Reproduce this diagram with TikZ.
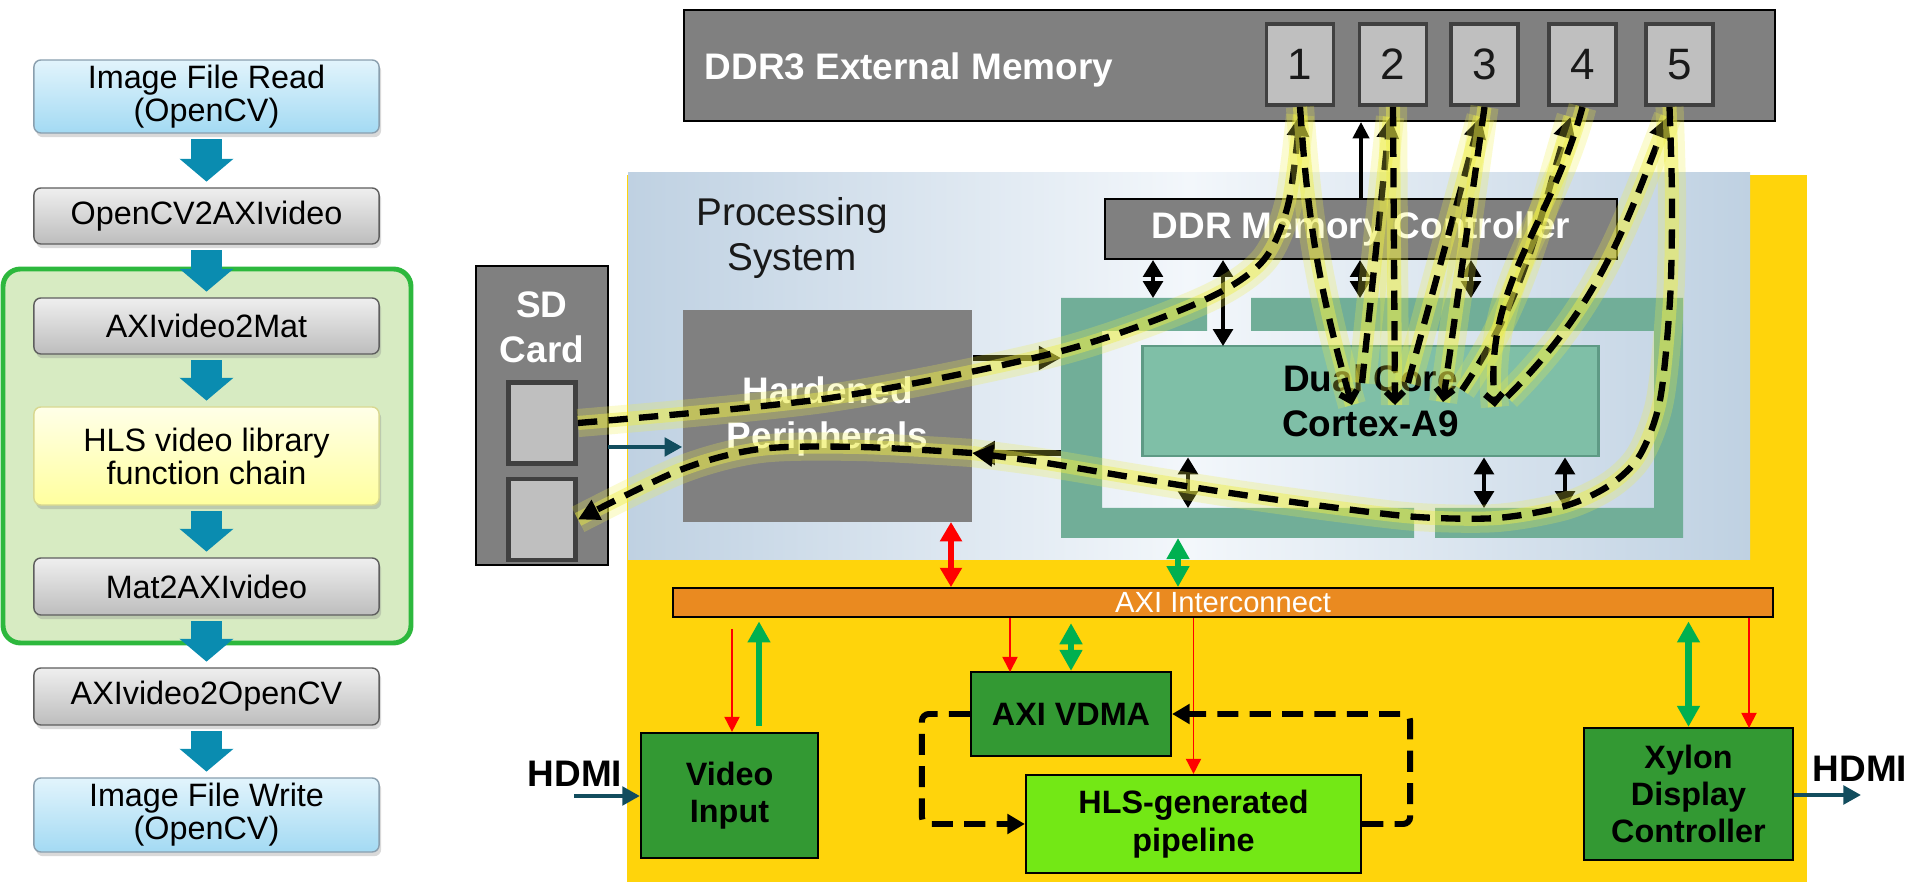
\documentclass[tikz,border=0pt]{standalone}
\usepackage{fontspec}
\setmainfont{Liberation Sans}
\usepackage{tikz}
\usetikzlibrary{arrows.meta,shadows}
\definecolor{graytop}{HTML}{EFEFEF}
\definecolor{graybot}{HTML}{BDBDBD}
\definecolor{flowedge}{HTML}{5E5E5E}
\definecolor{bluetop}{HTML}{E2F4FC}
\definecolor{bluebot}{HTML}{A3DAF3}
\definecolor{blueedge}{HTML}{8A9FAE}
\definecolor{yellowtop}{HTML}{FFFFE8}
\definecolor{yellowbot}{HTML}{FFFF9E}
\definecolor{yellowedge}{HTML}{D8D890}
\definecolor{hlsfill}{HTML}{D7EBC2}
\definecolor{hlsedge}{HTML}{2DB83D}
\definecolor{arrowteal}{HTML}{0A8CB0}
\definecolor{plyellow}{HTML}{FFD40B}
\definecolor{psedge}{HTML}{BFD1E2}
\definecolor{psmid}{HTML}{F3F7FB}
\definecolor{memgray}{HTML}{808080}
\definecolor{slotgray}{HTML}{BFBFBF}
\definecolor{slotedge}{HTML}{404040}
\definecolor{frameteal}{HTML}{71AE98}
\definecolor{coreteal}{HTML}{7FBFA7}
\definecolor{coreedge}{HTML}{5E9A85}
\definecolor{axiorange}{HTML}{EA8A20}
\definecolor{blockgreen}{HTML}{339933}
\definecolor{pipegreen}{HTML}{73E815}
\definecolor{redarrow}{HTML}{FF0000}
\definecolor{greenarrow}{HTML}{00B050}
\definecolor{hdmiteal}{HTML}{124D5E}
\definecolor{glowyellow}{HTML}{EEEE48}
\tikzset{
flowbox/.style={
 draw=flowedge,
 rounded corners=2pt,
 inner sep=1pt,
 minimum width=3.45cm,
 align=center,
 font=\fontsize{9.2}{9.4}\selectfont,
 drop shadow={shadow xshift=0.6pt,shadow yshift=-1.2pt,opacity=0.3}
 },
grayflow/.style={flowbox, top color=graytop, bottom color=graybot},
blueflow/.style={flowbox, draw=blueedge, top color=bluetop, bottom color=bluebot},
yellowflow/.style={flowbox, draw=yellowedge, top color=yellowtop, bottom color=yellowbot},
flowarrow/.style={
 draw=arrowteal,
 line width=8.8pt,
 -{Triangle[length=6.5pt,width=15pt]},
 shorten <=1.6pt,
 shorten >=1.6pt
 },
memblock/.style={draw=black, fill=memgray, inner sep=0pt, line width=0.6pt},
memlabel/.style={text=white, font=\bfseries\fontsize{10.5}{12.8}\selectfont, inner sep=0pt, align=center},
memslot/.style={
 draw=slotedge, fill=slotgray, line width=1.1pt,
 minimum width=0.67cm, minimum height=0.81cm, inner sep=0pt,
 font=\fontsize{12.5}{14}\selectfont, text=black!90
 },
sdslot/.style={draw=slotedge, fill=slotgray, line width=1.4pt, minimum width=0.67cm, minimum height=0.81cm, inner sep=0pt},
hardblock/.style={fill=memgray, inner sep=0pt, text=white, font=\bfseries\fontsize{10.5}{12.8}\selectfont, align=center},
coreblock/.style={draw=coreedge, fill=coreteal, line width=0.8pt, inner sep=0pt, font=\bfseries\fontsize{10.5}{12.8}\selectfont, align=center},
axibar/.style={draw=black, fill=axiorange, line width=0.5pt, inner sep=0pt, text=white, font=\fontsize{8.3}{9}\selectfont},
greenblock/.style={draw=black, fill=blockgreen, line width=0.6pt, inner sep=0pt, font=\bfseries\fontsize{9.2}{10.6}\selectfont, align=center},
busarrow/.style={line width=1pt, {Triangle[length=4.8pt,width=5.6pt]}-{Triangle[length=4.8pt,width=5.6pt]}},
ctrlarrow/.style={line width=0.9pt, -{Triangle[length=4.6pt,width=4.6pt]}},
solidarrow/.style={line width=1.6pt, -{Triangle[length=6.3pt,width=6.5pt]}},
redthick/.style={draw=redarrow, line width=1.5pt, {Triangle[length=5.5pt,width=6pt]}-{Triangle[length=5.5pt,width=6pt]}},
greenthick/.style={draw=greenarrow, line width=1.8pt, {Triangle[length=6pt,width=6.2pt]}-{Triangle[length=6pt,width=6.2pt]}},
greenup/.style={draw=greenarrow, line width=1.8pt, -{Triangle[length=6pt,width=6.2pt]}},
redthin/.style={draw=redarrow, line width=0.5pt, -{Triangle[length=4.3pt,width=4.3pt]}},
hdmiarrow/.style={draw=hdmiteal, line width=1.2pt, -{Triangle[length=5pt,width=5.2pt]}},
hdmilbl/.style={font=\bfseries\fontsize{10.5}{12}\selectfont, inner sep=0pt},
loopdash/.style={line width=1.7pt, dash pattern=on 6pt off 3.2pt, rounded corners=2pt, -{Triangle[length=5pt,width=5.5pt]}},
flowpath/.style={
 preaction={draw=glowyellow, line width=8pt, draw opacity=0.25, solid, -},
 preaction={draw=glowyellow, line width=4pt, draw opacity=0.45, solid, -},
 draw=black, line width=1.8pt, dash pattern=on 5.5pt off 3.2pt,
 -{Triangle[length=6pt,width=6pt]}
 },
coretip/.style={-{Straight Barb[length=2.5pt,width=5pt]}}
}

\begin{document}
\begin{tikzpicture}[x=0.01cm,y=-0.01cm]
\useasboundingbox (0,0) rectangle (1915,883);
\draw[draw=hlsedge, fill=hlsfill, line width=1.4pt, rounded corners=5pt] (3,269) rectangle (411,643);
\node[blueflow, minimum height=0.73cm] (imgread) at (206.5,96.5) {Image File Read\\(OpenCV)};
\node[grayflow, minimum height=0.56cm] (cv2axi) at (206.5,216) {OpenCV2AXIvideo};
\node[grayflow, minimum height=0.56cm] (axi2mat) at (206.5,326) {AXIvideo2Mat};
\node[yellowflow, minimum height=0.98cm] (hlslib) at (206.5,456) {HLS video library\\function chain};
\node[grayflow, minimum height=0.57cm] (mat2axi) at (206.5,586.5) {Mat2AXIvideo};
\node[grayflow, minimum height=0.57cm] (axi2cv) at (206.5,696.5) {AXIvideo2OpenCV};
\node[blueflow, minimum height=0.74cm] (imgwrite) at (206.5,815) {Image File Write\\(OpenCV)};
\draw[flowarrow] (imgread) -- (cv2axi);
\draw[flowarrow] (cv2axi) -- (axi2mat);
\draw[flowarrow] (axi2mat) -- (hlslib);
\draw[flowarrow] (hlslib) -- (mat2axi);
\draw[flowarrow] (mat2axi) -- (axi2cv);
\draw[flowarrow] (axi2cv) -- (imgwrite);

\fill[plyellow] (627,175) rectangle (1807,882);
\shade[left color=psedge, right color=psedge, middle color=psmid] (628,173) rectangle (1750,560);
\node[memblock, minimum width=10.91cm, minimum height=1.11cm] (ddr3) at (1229.5,65.5) {};
\node[memlabel, anchor=base west] (ddr3lbl) at (704,80) {DDR3 External Memory};
\node[memslot] (m1) at (1300,64.5) {1};
\node[memslot] (m2) at (1393,64.5) {2};
\node[memslot] (m3) at (1484.5,64.5) {3};
\node[memslot] (m4) at (1582.5,64.5) {4};
\node[memslot] (m5) at (1679.5,64.5) {5};
\node[align=center, inner sep=0pt, text=black!90, font=\fontsize{11}{12.8}\selectfont] (pslbl) at (792,238) {Processing\\System};

\node[memblock, minimum width=1.32cm, minimum height=2.99cm] (sd) at (542,415.5) {};
\node[memlabel] (sdlbl) at (542,327) {SD\\Card};
\node[sdslot] (sdA) at (542,423) {};
\node[sdslot] (sdB) at (542,519.5) {};
\node[hardblock, minimum width=2.89cm, minimum height=2.12cm] (hp) at (827.5,416) {Hardened\\Peripherals};

\fill[frameteal] (1061,298) -- (1207,298) -- (1207,331) -- (1102,331) -- (1102,508) -- (1414,508) -- (1414,538) -- (1061,538) -- cycle;
\fill[frameteal] (1251,298) -- (1683,298) -- (1683,538) -- (1435,538) -- (1435,508) -- (1654,508) -- (1654,331) -- (1251,331) -- cycle;
\node[coreblock, minimum width=4.55cm, minimum height=1.1cm] (core) at (1370.5,401) {Dual Core\\Cortex-A9};
\node[memblock, memlabel, minimum width=5.12cm, minimum height=0.6cm] (ctrl) at (1361,229) {DDR Memory Controller};

\coordinate (ft1) at (1153,298);
\coordinate (ft2) at (1360,298);
\coordinate (ft3) at (1471,298);
\coordinate (ct) at (1223,346);
\coordinate (fb1) at (1188,508);
\coordinate (fb2) at (1484,508);
\coordinate (fb3) at (1565,508);
\coordinate (fl1) at (1061,358);
\coordinate (fl2) at (1061,453);
\coordinate (sdout) at (608,447);
\draw[ctrlarrow] (ctrl.north) -- (ctrl.north |- ddr3.south);
\draw[busarrow] (ft1 |- ctrl.south) -- (ft1);
\draw[busarrow] (ft2 |- ctrl.south) -- (ft2);
\draw[busarrow] (ft3 |- ctrl.south) -- (ft3);
\draw[busarrow] (ct |- ctrl.south) -- (ct);
\draw[busarrow] (fb1 |- core.south) -- (fb1);
\draw[busarrow] (fb2 |- core.south) -- (fb2);
\draw[busarrow] (fb3 |- core.south) -- (fb3);
\draw[solidarrow] (fl1 -| hp.east) -- (fl1);
\draw[solidarrow] (fl2) -- (fl2 -| hp.east);
\draw[hdmiarrow] (sdout) -- (sdout -| hp.west);

\node[axibar, minimum width=11cm, minimum height=0.29cm] (axi) at (1223,602.5) {AXI Interconnect};
\node[greenblock, minimum width=1.77cm, minimum height=1.25cm] (vin) at (729.5,795.5) {Video\\Input};
\node[greenblock, minimum width=2cm, minimum height=0.84cm] (vdma) at (1071,714) {AXI VDMA};
\node[greenblock, fill=pipegreen, minimum width=3.35cm, minimum height=0.98cm] (hls) at (1193.5,824) {HLS-generated\\pipeline};
\node[greenblock, minimum width=2.09cm, minimum height=1.32cm] (xyl) at (1688.5,794) {Xylon\\Display\\Controller};

\coordinate (hpr) at (951,522);
\coordinate (fbot) at (1178,538);
\coordinate (vinr) at (732,629);
\coordinate (ving) at (759,726);
\coordinate (vdmar) at (1010,672);
\coordinate (xylr) at (1749,728);
\draw[redthick] (hpr) -- (hpr |- axi.north);
\draw[greenthick] (fbot) -- (fbot |- axi.north);
\draw[redthin] (vinr) -- (vinr |- vin.north);
\draw[greenup, shorten >=1pt] (ving) -- (ving |- axi.south);
\draw[redthin] (vdmar |- axi.south) -- (vdmar);
\draw[greenthick, shorten <=1.5pt] (vdma.north |- axi.south) -- (vdma.north);
\draw[redthin] (hls.north |- axi.south) -- (hls.north);
\draw[greenthick, shorten <=1pt] (xyl.north |- axi.south) -- (xyl.north);
\draw[redthin] (xylr |- axi.south) -- (xylr);

\node[hdmilbl, anchor=base] (hdmiin) at (575,787) {HDMI};
\node[hdmilbl, anchor=base] (hdmiout) at (1860,782) {HDMI};
\coordinate (hdmiinpt) at (574,796);
\coordinate (hdmioutpt) at (1861,795);
\draw[hdmiarrow] (hdmiinpt) -- (hdmiinpt -| vin.west);
\draw[hdmiarrow] (hdmioutpt -| xyl.east) -- (hdmioutpt);
\draw[loopdash] (vdma.west) -- ++(-48,0) |- (hls.west);
\draw[loopdash] (hls.east) -- ++(48,0) |- (vdma.east);

\coordinate (t1) at ([yshift=-0.08cm]m1.south);
\coordinate (t2) at ([xshift=-0.03cm,yshift=-0.1cm]m2.south);
\coordinate (t3) at ([xshift=-0.04cm,yshift=-0.1cm]m3.south);
\coordinate (t4) at ([xshift=-0.12cm,yshift=-0.1cm]m4.south);
\coordinate (t5) at ([xshift=-0.12cm,yshift=-0.1cm]m5.south);
\coordinate (s5) at ([xshift=-0.1cm]m5.south);
\coordinate (c1) at (1352,405);
\coordinate (c2a) at (1362,383);
\coordinate (c2b) at (1395,405);
\coordinate (c3a) at (1408,383);
\coordinate (c3b) at (1443,402);
\coordinate (c4a) at (1462,390);
\coordinate (c4b) at (1495,407);
\coordinate (c5) at (1507,397);
\coordinate (hpin) at (972,453);
\draw[flowpath] plot[smooth] coordinates {(sdA.east) (830,398) (1058,352) (1200,302) (1262,262) (1288,205) (t1)};
\draw[flowpath, coretip] (m1.south) to[bend right=6] (c1);
\draw[flowpath] (c2a) -- (t2);
\draw[flowpath, coretip] (m2.south) -- (c2b);
\draw[flowpath] (c3a) -- (t3);
\draw[flowpath, coretip] (m3.south) -- (c3b);
\draw[flowpath] (c4a) to[out=56,in=-107] (t4);
\draw[flowpath, coretip] (m4.south) to[out=-105,in=95] (c4b);
\draw[flowpath] (c5) to[out=45,in=-111] (t5);
\draw[flowpath] plot[smooth] coordinates {(s5) (1672,200) (1670,300) (1660,400) (1640,455) (1610,485) (1565,506) (1497,518) (1417,517) (1330,507) (1230,493) (1130,477) (1040,462) (hpin)};
\draw[flowpath] plot[smooth] coordinates {(hpin) (860,447) (760,449) (680,470) (sdB.east)};
\end{tikzpicture}
\end{document}
